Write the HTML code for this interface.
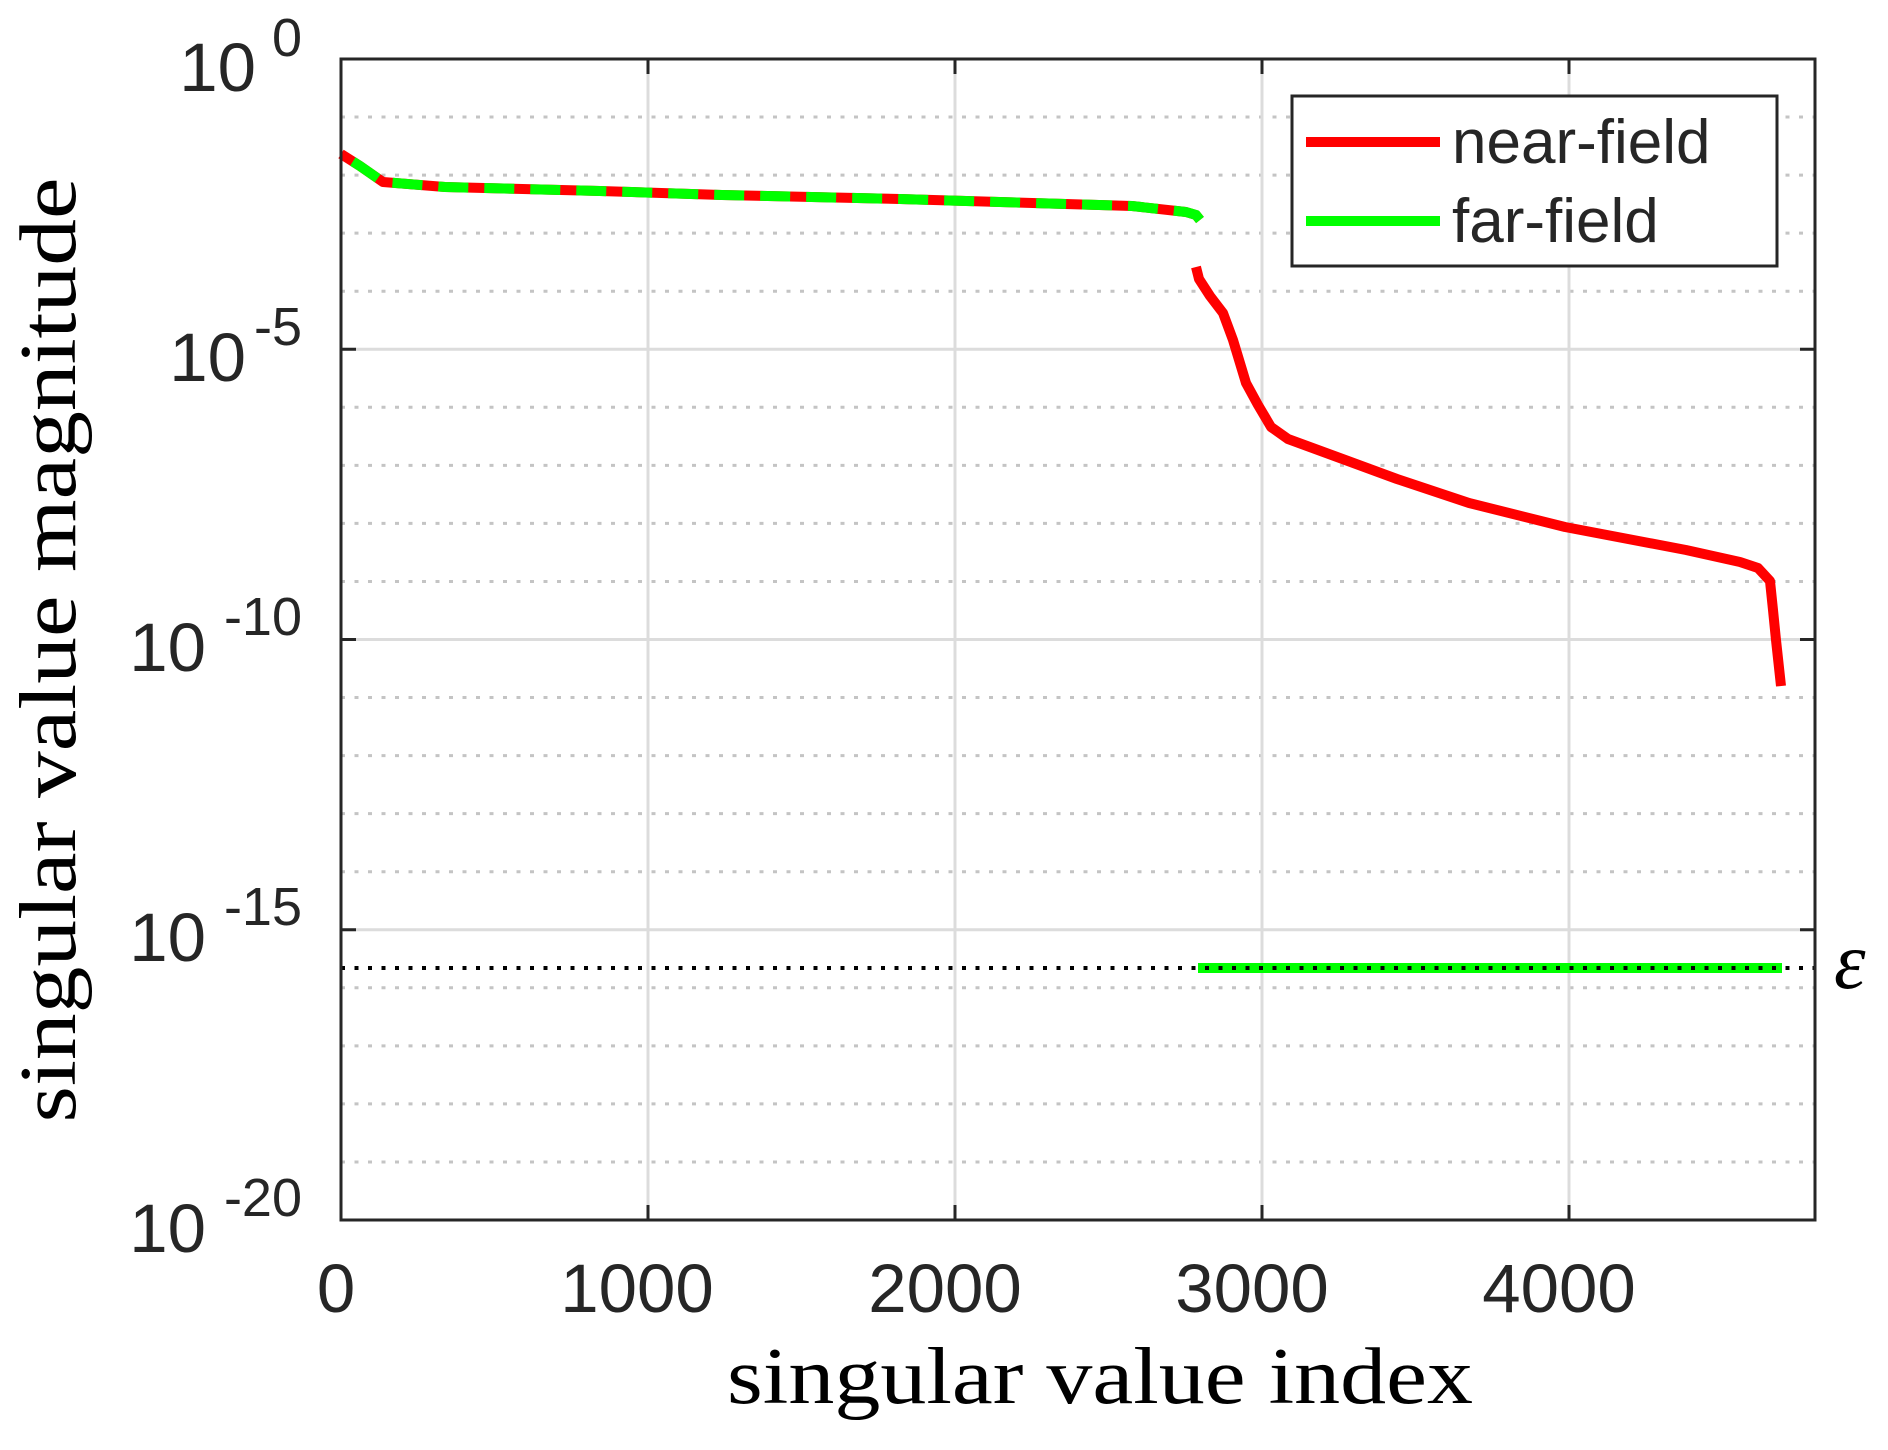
<!DOCTYPE html>
<html><head><meta charset="utf-8"><style>html,body{margin:0;padding:0;background:#fff}svg{display:block}</style></head>
<body>
<svg width="1888" height="1450" viewBox="0 0 1888 1450" xmlns="http://www.w3.org/2000/svg">
<rect width="1888" height="1450" fill="#fff"/>
<g stroke="#c4c4c4" stroke-width="3" stroke-dasharray="4 9.5">
<line x1="341" x2="1815" y1="117.05" y2="117.05"/><line x1="341" x2="1815" y1="175.1" y2="175.1"/><line x1="341" x2="1815" y1="233.15" y2="233.15"/><line x1="341" x2="1815" y1="291.2" y2="291.2"/>
<line x1="341" x2="1815" y1="407.3" y2="407.3"/><line x1="341" x2="1815" y1="465.35" y2="465.35"/><line x1="341" x2="1815" y1="523.4" y2="523.4"/><line x1="341" x2="1815" y1="581.45" y2="581.45"/>
<line x1="341" x2="1815" y1="697.55" y2="697.55"/><line x1="341" x2="1815" y1="755.6" y2="755.6"/><line x1="341" x2="1815" y1="813.65" y2="813.65"/><line x1="341" x2="1815" y1="871.7" y2="871.7"/>
<line x1="341" x2="1815" y1="987.8" y2="987.8"/><line x1="341" x2="1815" y1="1045.85" y2="1045.85"/><line x1="341" x2="1815" y1="1103.9" y2="1103.9"/><line x1="341" x2="1815" y1="1161.95" y2="1161.95"/>
</g>
<g stroke="#dcdcdc" stroke-width="3">
<line x1="341" x2="1815" y1="349.25" y2="349.25"/><line x1="341" x2="1815" y1="639.5" y2="639.5"/><line x1="341" x2="1815" y1="929.75" y2="929.75"/>
<line x1="648" x2="648" y1="59" y2="1220"/><line x1="955" x2="955" y1="59" y2="1220"/><line x1="1262" x2="1262" y1="59" y2="1220"/><line x1="1569" x2="1569" y1="59" y2="1220"/>
</g>
<g stroke="#262626" stroke-width="3">
<line x1="648" x2="648" y1="1220" y2="1205"/><line x1="955" x2="955" y1="1220" y2="1205"/><line x1="1262" x2="1262" y1="1220" y2="1205"/><line x1="1569" x2="1569" y1="1220" y2="1205"/>
<line x1="648" x2="648" y1="59" y2="74"/><line x1="955" x2="955" y1="59" y2="74"/><line x1="1262" x2="1262" y1="59" y2="74"/><line x1="1569" x2="1569" y1="59" y2="74"/>
<line x1="341" x2="356" y1="349.25" y2="349.25"/><line x1="341" x2="356" y1="639.5" y2="639.5"/><line x1="341" x2="356" y1="929.75" y2="929.75"/>
<line x1="1815" x2="1800" y1="349.25" y2="349.25"/><line x1="1815" x2="1800" y1="639.5" y2="639.5"/><line x1="1815" x2="1800" y1="929.75" y2="929.75"/>
</g>
<polyline points="1198,968 1782,968" fill="none" stroke="#00ff00" stroke-width="10"/>
<line x1="341" x2="1815" y1="968" y2="968" stroke="#000" stroke-width="4" stroke-dasharray="4 9.5"/>
<polyline points="341,154 360,166 383,182 445,187 600,191 722,195 900,199 1132,206 1186,212 1196,215 1200,220" fill="none" stroke="#ff0000" stroke-width="10" stroke-linejoin="round"/>
<polyline points="341,154 360,166 383,182 445,187 600,191 722,195 900,199 1132,206 1186,212 1196,215 1200,220" fill="none" stroke="#00ff00" stroke-width="10" stroke-dasharray="30 16" stroke-dashoffset="-14"/>
<polyline points="1196,267 1199,279 1210,296 1223,313 1233,340 1246,383 1258,405 1271,427 1288,439 1348,461 1397,479 1469,503 1565,527 1686,550 1740,562 1758,568 1770,581 1773,610 1776,640 1781,686" fill="none" stroke="#ff0000" stroke-width="10" stroke-linejoin="round"/>
<rect x="341" y="59" width="1474" height="1161" fill="none" stroke="#262626" stroke-width="3"/>
<rect x="1292" y="96" width="485" height="170" fill="#fff" stroke="#262626" stroke-width="3"/>
<line x1="1306" x2="1440" y1="142" y2="142" stroke="#ff0000" stroke-width="10"/>
<line x1="1306" x2="1440" y1="221" y2="221" stroke="#00ff00" stroke-width="10"/>
<g font-family="Liberation Sans, sans-serif" fill="#262626">
<text x="1452" y="163" font-size="62">near-field</text>
<text x="1452" y="242" font-size="62">far-field</text>
<g font-size="69" text-anchor="middle">
<text x="336" y="1312">0</text><text x="637" y="1312">1000</text><text x="945" y="1312">2000</text><text x="1252" y="1312">3000</text><text x="1559" y="1312">4000</text>
</g>
<g font-size="69" text-anchor="end">
<text x="256" y="91">10</text><text x="246" y="381">10</text><text x="206" y="671">10</text><text x="206" y="961">10</text><text x="206" y="1252">10</text>
</g>
<g font-size="54" text-anchor="end">
<text x="302" y="56">0</text><text x="302" y="345">-5</text><text x="302" y="635">-10</text><text x="302" y="925">-15</text><text x="302" y="1216">-20</text>
</g>
</g>
<g font-family="Liberation Serif, serif" fill="#000">
<text x="1100" y="1403" font-size="80" text-anchor="middle" textLength="746" lengthAdjust="spacingAndGlyphs">singular value index</text>
<text transform="translate(75,650) rotate(-90)" font-size="80" text-anchor="middle" textLength="945" lengthAdjust="spacingAndGlyphs">singular value magnitude</text>
<text x="1834" y="988" font-size="80" font-style="italic">ε</text>
</g>
</svg>
</body></html>
